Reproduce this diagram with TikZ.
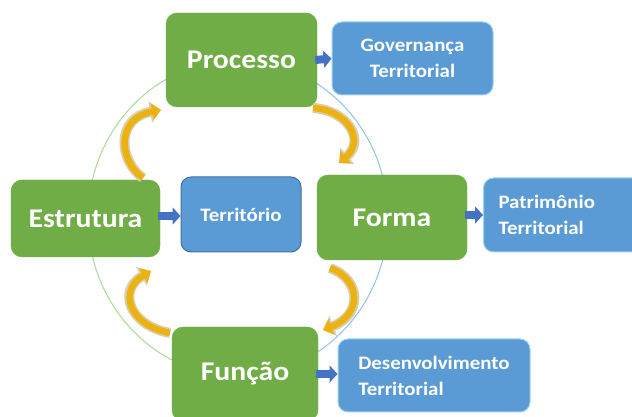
\documentclass[tikz,border=0pt]{standalone}
\usepackage{fontspec}
\setmainfont{Carlito}
\newfontfamily\boxfont[FakeStretch=1.1]{Carlito}
\usetikzlibrary{arrows.meta}
\definecolor{gbox}{HTML}{70AD47}
\definecolor{bbox}{HTML}{5B9BD5}
\definecolor{bdark}{HTML}{41719C}
\definecolor{blight}{HTML}{9DD3F0}
\definecolor{barrow}{HTML}{4472C4}
\definecolor{goldA}{HTML}{EBB212}
\definecolor{goldS}{HTML}{D8CFAE}
\definecolor{ringG}{HTML}{A9D996}
\definecolor{ringB}{HTML}{8FC3EA}
\begin{document}
\begin{tikzpicture}[x=1pt,y=1pt,
  greenbox/.style={draw=gbox,fill=gbox,rounded corners=11pt,text=white,
    font=\boxfont\bfseries\fontsize{27}{30}\selectfont,inner sep=0pt},
  bluebox/.style={draw=blight,line width=1pt,fill=bbox,rounded corners=10pt,text=white,
    font=\boxfont\bfseries\fontsize{19}{26}\selectfont,inner sep=0pt},
  bluearrow/.style={draw=barrow,line width=8pt,-{Triangle[length=8pt,width=17pt]}},
  cycarrow/.style={draw=goldA,line width=6.5pt,-{Triangle[length=9pt,width=16pt]},
    preaction={draw=goldS,line width=10pt,-{Triangle[length=11pt,width=21pt]}}}
]
\useasboundingbox (0,0) rectangle (632,417);
\begin{scope}
\clip (0,0) rectangle (632,417);
% ring
\draw[ringG,line width=1pt] (238,357) arc[start angle=90,end angle=270,x radius=150,y radius=158];
\draw[ringB,line width=1pt] (238,41) arc[start angle=-90,end angle=90,x radius=150,y radius=158];
% green boxes
\node[greenbox,minimum width=151pt,minimum height=94pt] (proc) at (241.5,357) {Processo};
\node[greenbox,minimum width=149pt,minimum height=77pt] (est) at (85.5,198.5) {Estrutura};
\node[greenbox,minimum width=150pt,minimum height=85pt] (forma) at (392,199.5) {Forma};
\node[greenbox,minimum width=146pt,minimum height=94pt] (func) at (245,43) {Função};
% blue boxes
\node[bluebox,minimum width=161pt,minimum height=73pt,align=center] (gov) at (412.5,358.5) {Governança\\Territorial};
\node[bluebox,draw=bdark,minimum width=120pt,minimum height=75pt] (ter) at (241,202.5) {Território};
\node[bluebox,minimum width=180pt,minimum height=74pt,anchor=west,align=left,
  text width=150pt,inner xsep=15pt] (pat) at (483,202) {Patrimônio\\Territorial};
\node[bluebox,minimum width=192pt,minimum height=73pt,align=left] (des) at (434,41.5) {Desenvolvimento\\Territorial};
% blue arrows
\draw[bluearrow] ([xshift=-2pt]proc.east) -- (gov.west);
\draw[bluearrow] ([xshift=-2pt]est.east |- 0,201) -- (ter.west |- 0,201);
\draw[bluearrow] ([xshift=-2pt]forma.east |- 0,202) -- (pat.west);
\draw[bluearrow] ([xshift=-2pt]func.east) -- (des.west |- func.east);
% cycle arrows
\coordinate (c1s) at (143,239); \coordinate (c1e) at (161,307);
\coordinate (c2s) at (313,309); \coordinate (c2e) at (339,254);
\coordinate (c3s) at (330,149); \coordinate (c3e) at (323,87);
\coordinate (c4s) at (170,84);  \coordinate (c4e) at (151,146);
\draw[cycarrow] (c1s) .. controls (118,257) and (116,299) .. (c1e);
\draw[cycarrow] (c2s) .. controls (347,307) and (366,277) .. (c2e);
\draw[cycarrow] (c3s) .. controls (362,137) and (362,102) .. (c3e);
\draw[cycarrow] (c4s) .. controls (128,92) and (118,127) .. (c4e);
\end{scope}
\end{tikzpicture}
\end{document}
